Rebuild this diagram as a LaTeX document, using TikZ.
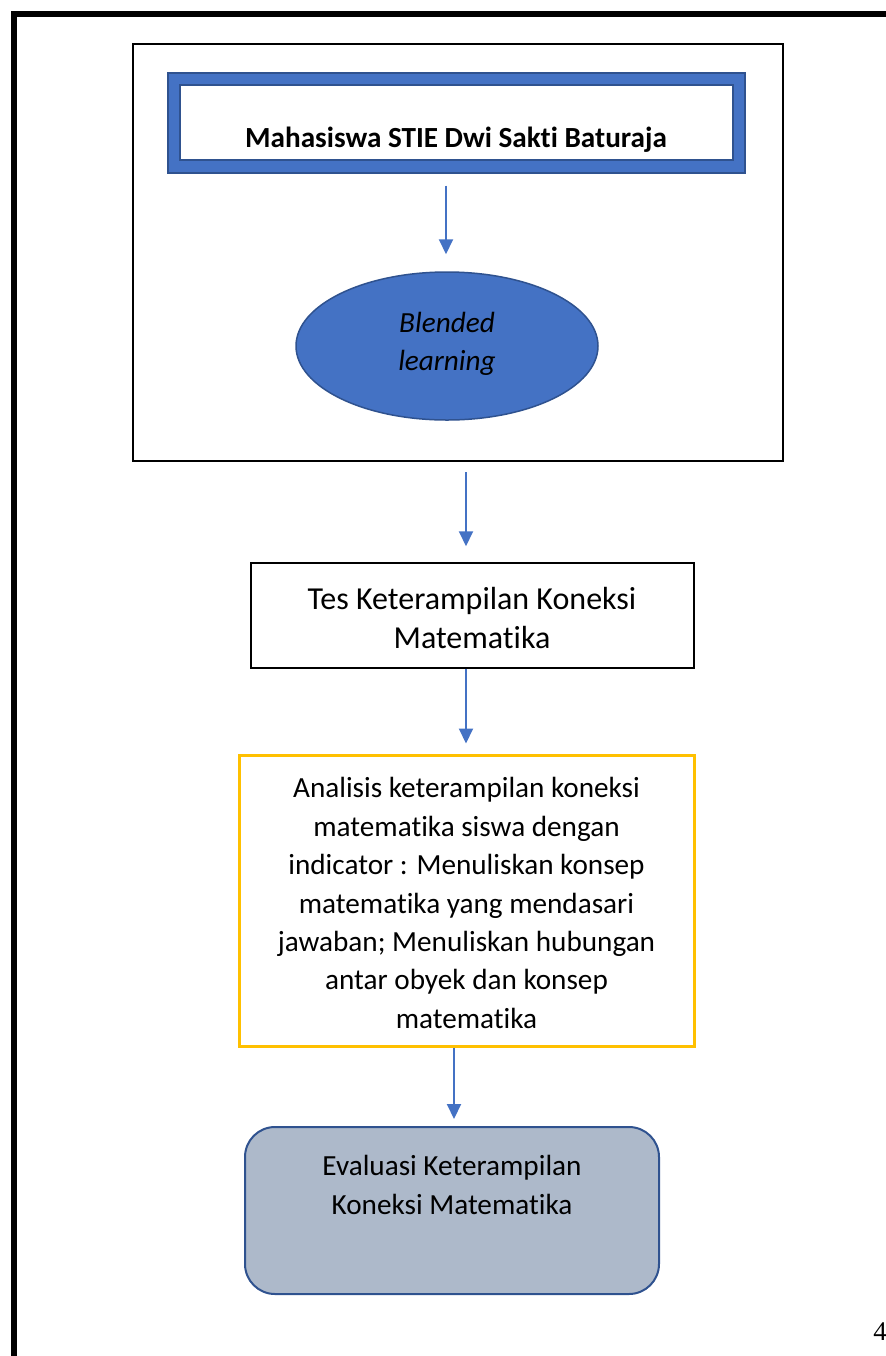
\documentclass[tikz,border=0pt]{standalone}
\usepackage{fontspec}
\setmainfont[Ligatures={NoCommon,NoRequired,NoContextual}]{Carlito}
\newfontfamily\timesfont{Liberation Serif}
\usetikzlibrary{arrows.meta,shapes.geometric}
\definecolor{wblue}{HTML}{4472C4}
\definecolor{wdark}{HTML}{2F528F}
\definecolor{wyellow}{HTML}{FFC000}
\definecolor{wgray}{HTML}{ADB9CA}
\tikzset{
  arr/.style={draw=wblue,line width=1pt,-{Triangle[length=7.5pt,width=7pt]}},
  txt/.style={align=center,inner sep=0pt,font=\fontsize{14.6}{19.2}\selectfont},
}
\begin{document}
\begin{tikzpicture}[x=0.5pt,y=-0.5pt]
\useasboundingbox (0,0) rectangle (886,1356);
% page frame
\draw[line width=3pt] (14,1360) -- (14,14) -- (890,14);
% outer group box
\node[draw=black,line width=1pt,minimum width=325pt,minimum height=208.5pt,inner sep=0pt] (outer) at (458,252.5) {};
% blue bordered box
\node[draw=wdark,fill=wblue,line width=0.6pt,minimum width=288.5pt,minimum height=50pt,inner sep=0pt] (blue) at (456.5,123) {};
\node[draw=wdark,fill=white,line width=0.6pt,minimum width=276.5pt,minimum height=37.5pt,inner sep=0pt] (bluein) at (456.5,122.5) {};
\node[txt,font=\fontsize{14.6}{19.2}\selectfont\bfseries] (t1) at (456,140) {Mahasiswa STIE Dwi Sakti Baturaja};
% ellipse
\node[ellipse,draw=wdark,fill=wblue,line width=0.75pt,minimum width=151pt,minimum height=74pt,inner sep=0pt] (ell) at (447,346) {};
\node[txt,font=\fontsize{14.6}{19.2}\selectfont\itshape] (t2) at (447,344) {Blended\\learning};
% tes box
\node[draw=black,line width=0.75pt,minimum width=221.5pt,minimum height=52.5pt,inner sep=0pt] (tes) at (472.5,615.5) {};
\node[txt,font=\fontsize{16}{19.5}\selectfont] (t3) at (472,618) {Tes Keterampilan Koneksi\\Matematika};
% analysis box
\node[draw=wyellow,line width=1.5pt,minimum width=227.5pt,minimum height=145.5pt,inner sep=0pt] (ana) at (466.5,900.5) {};
\node[txt] (t4) at (466.5,903) {Analisis keterampilan koneksi\\matematika siswa dengan\\indicator : Menuliskan konsep\\matematika yang mendasari\\jawaban; Menuliskan hubungan\\antar obyek dan konsep\\matematika};
% evaluation box
\node[draw=wdark,fill=wgray,line width=1pt,rounded corners=15pt,minimum width=207pt,minimum height=83.5pt,inner sep=0pt] (eval) at (452,1210.5) {};
\node[txt] (t5) at (452,1185) {Evaluasi Keterampilan\\Koneksi Matematika};
% arrow x positions
\coordinate (x1) at (446,0);
\coordinate (x2) at (466,0);
\coordinate (x3) at (454,0);
\draw[arr,shorten <=6pt,shorten >=8.5pt] (blue.south -| x1) -- (ell.north -| x1);
\draw[arr,shorten <=5pt,shorten >=8pt] (outer.south -| x2) -- (tes.north -| x2);
\draw[arr,shorten >=5pt] (tes.south -| x2) -- (ana.north -| x2);
\draw[arr,shorten >=3.5pt] (ana.south -| x3) -- (eval.north -| x3);
% page number
\node[anchor=base west,inner sep=0pt,font=\timesfont\fontsize{13.5}{16}\selectfont] (pg) at (873,1340) {4};
\end{tikzpicture}
\end{document}
